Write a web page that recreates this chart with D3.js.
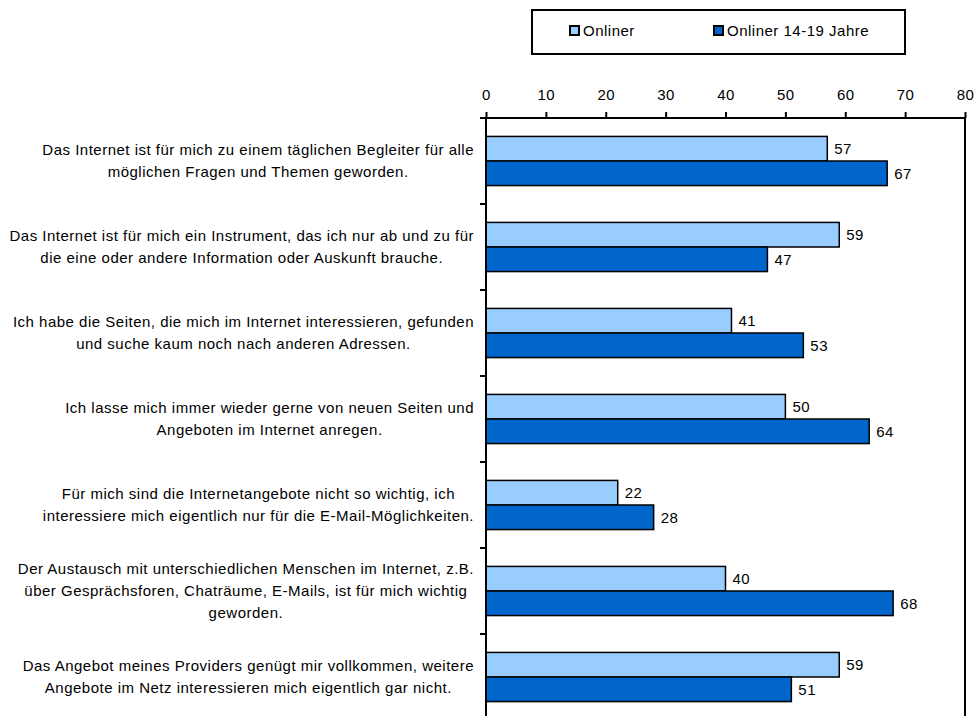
<!DOCTYPE html>
<html>
<head>
<meta charset="utf-8">
<script src="https://cdn.jsdelivr.net/npm/d3@7"></script>
<style>
  html, body { margin: 0; padding: 0; background: #fff; }
  svg { display: block; font-family: Arial, "Liberation Sans", sans-serif; }
  svg text { letter-spacing: 0.5px; }
</style>
</head>
<body>
<svg id="chart" width="977" height="716"></svg>
<script>
// Statements (each entry is a list of wrapped lines)
const categories = [
  ["Das Internet ist für mich zu einem täglichen Begleiter für alle", "möglichen Fragen und Themen geworden."],
  ["Das Internet ist für mich ein Instrument, das ich nur ab und zu für", "die eine oder andere Information oder Auskunft brauche."],
  ["Ich habe die Seiten, die mich im Internet interessieren, gefunden", "und suche kaum noch nach anderen Adressen."],
  ["Ich lasse mich immer wieder gerne von neuen Seiten und", "Angeboten im Internet anregen."],
  ["Für mich sind die Internetangebote nicht so wichtig, ich", "interessiere mich eigentlich nur für die E-Mail-Möglichkeiten."],
  ["Der Austausch mit unterschiedlichen Menschen im Internet, z.B.", "über Gesprächsforen, Chaträume, E-Mails, ist für mich wichtig", "geworden."],
  ["Das Angebot meines Providers genügt mir vollkommen, weitere", "Angebote im Netz interessieren mich eigentlich gar nicht."]
];
const seriesNames = ["Onliner", "Onliner 14-19 Jahre"];
const onliner = [57, 59, 41, 50, 22, 40, 59];
const onliner1419 = [67, 47, 53, 64, 28, 68, 51];
const xTicks = [0, 10, 20, 30, 40, 50, 60, 70, 80];

const colors = ["#99ccff", "#0066cc"];
const fontSize = 15;
const svg = d3.select("#chart");

const plot = { left: 486, right: 965, top: 118, bottom: 720 };

const x = d3.scaleLinear().domain([0, 80]).range([plot.left, plot.right]);
const y = d3.scaleBand().domain(d3.range(categories.length)).range([plot.top, plot.bottom]);
const inner = d3.scaleBand().domain([0, 1]).range([0, y.bandwidth()]).paddingInner(0).paddingOuter(0.75);

const series = [onliner, onliner1419];

// Bars
series.forEach((vals, s) => {
  svg.append("g").selectAll("rect").data(vals).join("rect")
    .attr("x", x(0))
    .attr("y", (d, i) => y(i) + inner(s))
    .attr("width", d => x(d) - x(0))
    .attr("height", inner.bandwidth())
    .attr("fill", colors[s])
    .attr("stroke", "#000")
    .attr("stroke-width", 1.5);
  svg.append("g").selectAll("text").data(vals).join("text")
    .attr("x", d => x(d) + 7)
    .attr("y", (d, i) => y(i) + inner(s) + inner.bandwidth() / 2)
    .attr("dy", "0.35em")
    .attr("font-size", fontSize)
    .attr("fill", "#000")
    .text(d => d);
});

// Right border of the plot area
svg.append("line")
  .attr("x1", plot.right).attr("x2", plot.right)
  .attr("y1", plot.top).attr("y2", plot.bottom)
  .attr("stroke", "#000").attr("stroke-width", 2);

// Top value axis
const xAxis = svg.append("g")
  .attr("transform", `translate(0,${plot.top})`)
  .call(d3.axisTop(x).tickValues(xTicks).tickSize(6).tickPadding(12));
xAxis.select(".domain").attr("stroke-width", 2).attr("d", `M${plot.left - 6},0H${plot.right}`);
xAxis.selectAll(".tick line").attr("stroke-width", 2);
xAxis.selectAll(".tick text").attr("font-size", fontSize).attr("font-family", "Arial, 'Liberation Sans', sans-serif").attr("fill", "#000");

// Left category axis (separator ticks between groups)
const yAxis = svg.append("g").attr("transform", `translate(${plot.left},0)`);
yAxis.append("line")
  .attr("x1", 0).attr("x2", 0).attr("y1", plot.top).attr("y2", plot.bottom)
  .attr("stroke", "#000").attr("stroke-width", 2);
yAxis.selectAll("line.sep").data(d3.range(1, categories.length)).join("line")
  .attr("class", "sep")
  .attr("x1", -6).attr("x2", 0)
  .attr("y1", i => y(i)).attr("y2", i => y(i))
  .attr("stroke", "#000").attr("stroke-width", 2);

// Category labels: centred block whose right edge sits next to the axis
const lineH = 22;
categories.forEach((lines, i) => {
  const g = svg.append("g");
  const texts = lines.map((l, k) => g.append("text")
    .attr("font-size", fontSize).attr("fill", "#000")
    .attr("text-anchor", "middle")
    .attr("dy", "0.35em")
    .text(l));
  const maxW = d3.max(texts, t => t.node().getComputedTextLength());
  const cx = 474 - maxW / 2;
  const cy = y(i) + y.bandwidth() / 2;
  texts.forEach((t, k) => {
    t.attr("x", cx).attr("y", cy + (k - (lines.length - 1) / 2) * lineH);
  });
});

// Legend
const legend = svg.append("g");
legend.append("rect")
  .attr("x", 532).attr("y", 10).attr("width", 373).attr("height", 44)
  .attr("fill", "#fff").attr("stroke", "#000").attr("stroke-width", 2);
const legendX = [570, 714];
seriesNames.forEach((name, s) => {
  legend.append("rect")
    .attr("x", legendX[s]).attr("y", 26).attr("width", 9).attr("height", 9)
    .attr("fill", colors[s]).attr("stroke", "#000").attr("stroke-width", 2);
  legend.append("text")
    .attr("x", legendX[s] + 13).attr("y", 31).attr("dy", "0.35em")
    .attr("font-size", fontSize).attr("fill", "#000")
    .text(name);
});
</script>
</body>
</html>
